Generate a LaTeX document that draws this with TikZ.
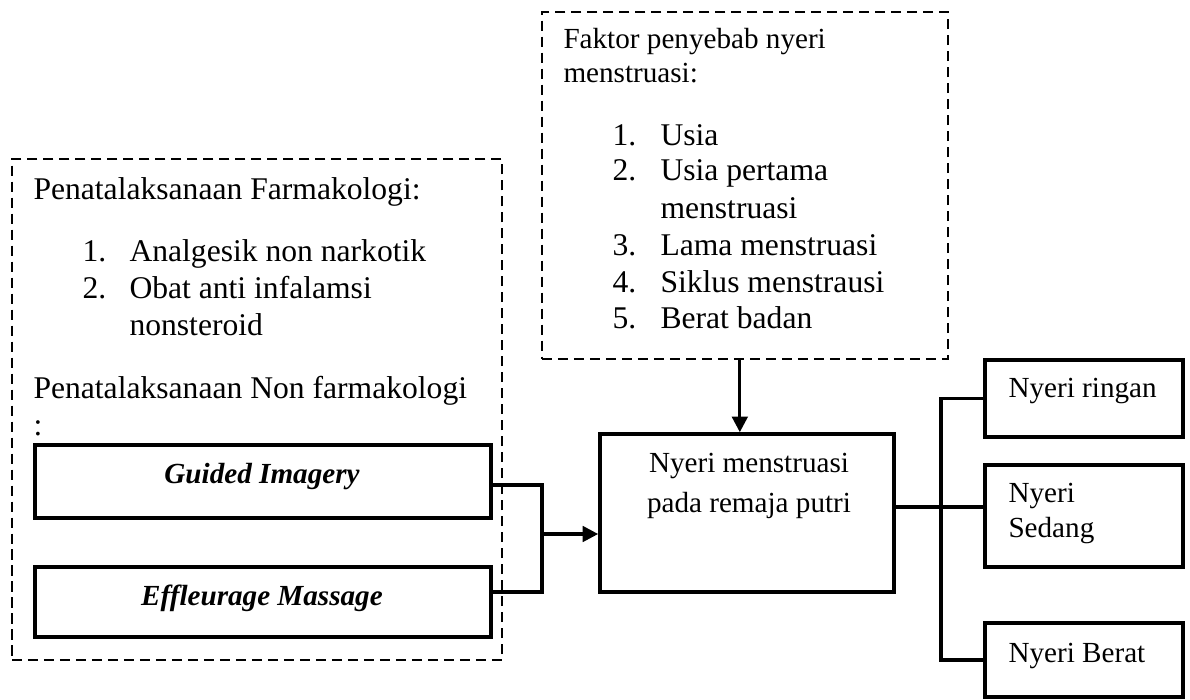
\documentclass[tikz,border=0pt]{standalone}
\usepackage{fontspec}
\setmainfont{Liberation Serif}
\usetikzlibrary{arrows.meta, fit}

\begin{document}
\begin{tikzpicture}[x=0.3876pt, y=-0.3876pt, font=\fontsize{12.25}{14}\selectfont,
    dashbox/.style={draw, line width=0.9pt, dash pattern=on 3.9pt off 2.3pt, inner sep=0pt},
    solidbox/.style={draw, line width=1.4pt, inner sep=0pt},
    txt/.style={anchor=base west, inner sep=0pt},
    ctxt/.style={anchor=base, inner sep=0pt},
    small/.style={font=\fontsize{11.3}{13}\selectfont},
    link/.style={line width=1.3pt},
    arrow/.style={line width=1.2pt, -{Triangle[length=6pt, width=6pt]}}]
  \useasboundingbox (0,0) rectangle (1190,700);
  \node[dashbox, fit={(12,159) (502,660)}] (pharm) {};
  \node[dashbox, fit={(542,12) (948,359)}] (cause) {};
  \node[solidbox, fit={(35,445) (491,518)}] (guided) {};
  \node[solidbox, fit={(35,567) (491,637)}] (effl) {};
  \node[solidbox, fit={(600,434) (894,592)}] (pain) {};
  \node[solidbox, fit={(985,360) (1183,437)}] (light) {};
  \node[solidbox, fit={(985,465) (1183,567)}] (medium) {};
  \node[solidbox, fit={(985,623) (1183,697)}] (heavy) {};

  \node[txt] (pharmhead) at (33,199) {Penatalaksanaan Farmakologi:};
  \node[txt] (pnum1) at (82,261) {1.};
  \node[txt] (pitem1) at (129,261) {Analgesik non narkotik};
  \node[txt] (pnum2) at (82,298) {2.};
  \node[txt] (pitem2) at (129,298) {Obat anti infalamsi};
  \node[txt] (pitem2b) at (129,335) {nonsteroid};
  \node[txt] (nonhead) at (33,398) {Penatalaksanaan Non farmakologi};
  \node[txt] (noncolon) at (33,435) {:};
  \node[ctxt, small] (guidedtxt) at (262,483) {\bfseries\itshape Guided Imagery};
  \node[ctxt, small] (effltxt) at (262,605) {\bfseries\itshape Effleurage Massage};

  \node[txt, small] (causehead) at (563,48) {Faktor penyebab nyeri};
  \node[txt, small] (causehead2) at (563,82) {menstruasi:};
  \node[txt] (cnum1) at (612,145) {1.};
  \node[txt] (citem1) at (660,145) {Usia};
  \node[txt] (cnum2) at (612,180) {2.};
  \node[txt] (citem2) at (660,180) {Usia pertama};
  \node[txt] (citem2b) at (660,218) {menstruasi};
  \node[txt] (cnum3) at (612,255) {3.};
  \node[txt] (citem3) at (660,255) {Lama menstruasi};
  \node[txt] (cnum4) at (612,292) {4.};
  \node[txt] (citem4) at (660,292) {Siklus menstrausi};
  \node[txt] (cnum5) at (612,328) {5.};
  \node[txt] (citem5) at (660,328) {Berat badan};

  \node[ctxt, small] (paintxt) at (749,472) {Nyeri menstruasi};
  \node[ctxt, small] (paintxt2) at (749,512) {pada remaja putri};

  \node[txt, small] (lighttxt) at (1008,397) {Nyeri ringan};
  \node[txt, small] (mediumtxt) at (1008,502) {Nyeri};
  \node[txt, small] (mediumtxt2) at (1008,537) {Sedang};
  \node[txt, small] (heavytxt) at (1008,662) {Nyeri Berat};

  \coordinate (join) at (542,534);
  \coordinate (trunk) at (941,507);
  \draw[link] ([yshift=-1.4pt]guided.east) -| (join) |- ([yshift=3.9pt]effl.east);
  \draw[arrow] (join) -- (join -| pain.west);
  \draw[arrow] ([xshift=-2pt]cause.south) -- ([xshift=-2pt]cause.south |- pain.north);
  \draw[link] (pain.east |- trunk) -- (trunk -| medium.west);
  \draw[link] (light.west) -| (trunk) |- (heavy.west);
\end{tikzpicture}
\end{document}
